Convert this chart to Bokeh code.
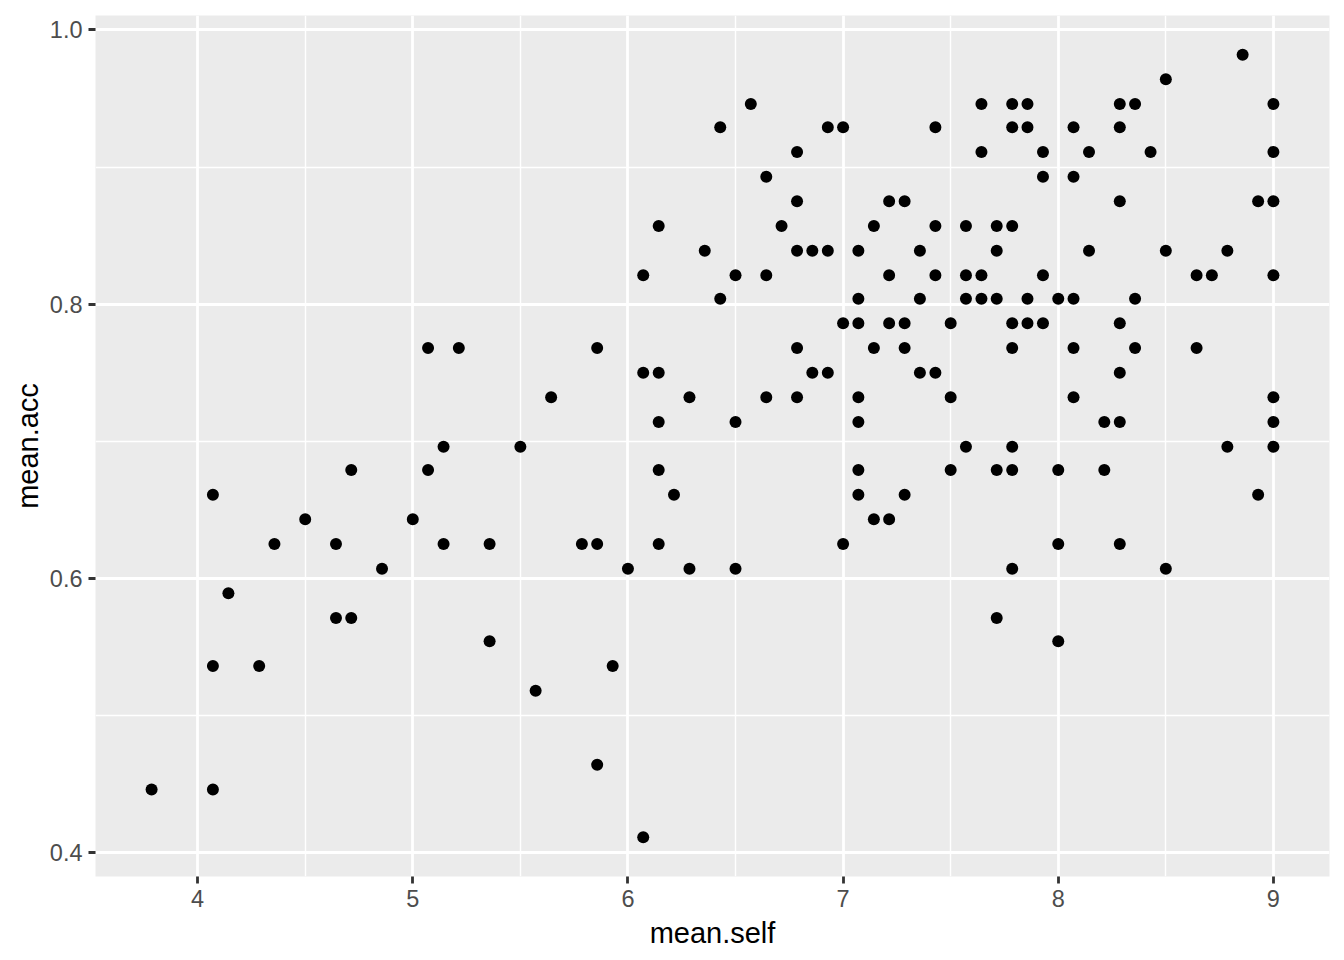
from bokeh.plotting import figure
from bokeh.models import FixedTicker, PrintfTickFormatter, Range1d
from bokeh.embed import file_html
from bokeh.resources import INLINE

mean_self = [
    3.786, 4.071, 4.071, 4.286, 4.143, 4.071, 4.357, 4.5, 4.643, 4.643,
    4.714, 4.714, 4.857, 5.0, 5.071, 5.071, 5.143, 5.143, 5.214, 5.357,
    5.357, 5.5, 5.571, 5.643, 5.786, 5.857, 5.857, 5.857, 5.929, 6.0,
    6.071, 6.071, 6.071, 6.143, 6.143, 6.143, 6.143, 6.143, 6.214, 6.286,
    6.286, 6.357, 6.429, 6.429, 6.5, 6.5, 6.5, 6.571, 6.643, 6.643,
    6.643, 6.714, 6.786, 6.786, 6.786, 6.786, 6.786, 6.857, 6.857, 6.929,
    6.929, 6.929, 7.0, 7.0, 7.0, 7.071, 7.071, 7.071, 7.071, 7.071,
    7.071, 7.071, 7.143, 7.143, 7.143, 7.214, 7.214, 7.214, 7.214, 7.286,
    7.286, 7.286, 7.286, 7.357, 7.357, 7.357, 7.429, 7.429, 7.429, 7.429,
    7.5, 7.5, 7.5, 7.571, 7.571, 7.571, 7.571, 7.643, 7.643, 7.643,
    7.643, 7.714, 7.714, 7.714, 7.714, 7.714, 7.786, 7.786, 7.786, 7.786,
    7.786, 7.786, 7.786, 7.786, 7.857, 7.857, 7.857, 7.857, 7.929, 7.929,
    7.929, 7.929, 8.0, 8.0, 8.0, 8.0, 8.071, 8.071, 8.071, 8.071,
    8.071, 8.143, 8.143, 8.214, 8.214, 8.286, 8.286, 8.286, 8.286, 8.286,
    8.286, 8.286, 8.357, 8.357, 8.357, 8.429, 8.5, 8.5, 8.5, 8.643,
    8.643, 8.714, 8.786, 8.786, 8.857, 8.929, 8.929, 9.0, 9.0, 9.0,
    9.0, 9.0, 9.0, 9.0,
]

mean_acc = [
    0.446, 0.446, 0.536, 0.536, 0.589, 0.661, 0.625, 0.643, 0.625, 0.571,
    0.571, 0.679, 0.607, 0.643, 0.679, 0.768, 0.696, 0.625, 0.768, 0.625,
    0.554, 0.696, 0.518, 0.732, 0.625, 0.625, 0.768, 0.464, 0.536, 0.607,
    0.821, 0.75, 0.411, 0.857, 0.75, 0.714, 0.679, 0.625, 0.661, 0.732,
    0.607, 0.839, 0.929, 0.804, 0.821, 0.714, 0.607, 0.946, 0.893, 0.821,
    0.732, 0.857, 0.911, 0.875, 0.839, 0.768, 0.732, 0.839, 0.75, 0.929,
    0.839, 0.75, 0.929, 0.786, 0.625, 0.839, 0.804, 0.786, 0.732, 0.714,
    0.679, 0.661, 0.857, 0.768, 0.643, 0.875, 0.821, 0.786, 0.643, 0.875,
    0.786, 0.768, 0.661, 0.839, 0.804, 0.75, 0.929, 0.857, 0.821, 0.75,
    0.786, 0.732, 0.679, 0.857, 0.821, 0.804, 0.696, 0.946, 0.911, 0.821,
    0.804, 0.857, 0.839, 0.804, 0.679, 0.571, 0.946, 0.929, 0.857, 0.786,
    0.768, 0.696, 0.679, 0.607, 0.946, 0.929, 0.804, 0.786, 0.911, 0.893,
    0.821, 0.786, 0.804, 0.679, 0.625, 0.554, 0.929, 0.893, 0.804, 0.768,
    0.732, 0.911, 0.839, 0.714, 0.679, 0.946, 0.929, 0.875, 0.786, 0.75,
    0.714, 0.625, 0.946, 0.804, 0.768, 0.911, 0.964, 0.839, 0.607, 0.821,
    0.768, 0.821, 0.839, 0.696, 0.982, 0.875, 0.661, 0.946, 0.911, 0.875,
    0.821, 0.732, 0.714, 0.696,
]

x_ticks = [4, 5, 6, 7, 8, 9]
x_minor = [3.5, 4.5, 5.5, 6.5, 7.5, 8.5]
y_ticks = [0.4, 0.6, 0.8, 1.0]
y_minor = [0.5, 0.7, 0.9]

x_lo, x_hi = min(mean_self), max(mean_self)
y_lo, y_hi = min(mean_acc), max(mean_acc)
xpad = (x_hi - x_lo) * 0.05
ypad = (y_hi - y_lo) * 0.05

p = figure(
    width=1344, height=960,
    output_backend="svg", toolbar_location=None,
    x_range=Range1d(x_lo - xpad, x_hi + xpad),
    y_range=Range1d(y_lo - ypad, y_hi + ypad),
    min_border_left=95, min_border_right=15,
    min_border_top=15, min_border_bottom=84,
)
p.background_fill_color = "#EBEBEB"
p.border_fill_color = "white"
p.outline_line_color = None

p.scatter(mean_self, mean_acc, size=12, color="black", line_width=0)

p.xaxis.ticker = FixedTicker(ticks=x_ticks, minor_ticks=x_minor)
p.yaxis.ticker = FixedTicker(ticks=y_ticks, minor_ticks=y_minor)
p.xaxis.formatter = PrintfTickFormatter(format="%d")
p.yaxis.formatter = PrintfTickFormatter(format="%.1f")

for g in (p.xgrid, p.ygrid):
    g.grid_line_color = "white"
    g.grid_line_width = 2.8
    g.minor_grid_line_color = "white"
    g.minor_grid_line_width = 1.4

for ax in (p.xaxis, p.yaxis):
    ax.axis_line_color = None
    ax.major_tick_line_color = "#333333"
    ax.major_tick_line_width = 2.8
    ax.major_tick_out = 7
    ax.major_tick_in = 0
    ax.minor_tick_line_color = None
    ax.major_label_text_font = "Liberation Sans"
    ax.major_label_text_font_size = "23.5px"
    ax.major_label_text_color = "#4D4D4D"
    ax.major_label_standoff = 6
    ax.axis_label_text_font = "Liberation Sans"
    ax.axis_label_text_font_size = "29px"
    ax.axis_label_text_font_style = "normal"
    ax.axis_label_text_color = "black"
    ax.axis_label_standoff = 7

p.yaxis.axis_label_standoff = 3

p.xaxis.axis_label = "mean.self"
p.yaxis.axis_label = "mean.acc"

open("out.html", "w").write(file_html(p, INLINE))
